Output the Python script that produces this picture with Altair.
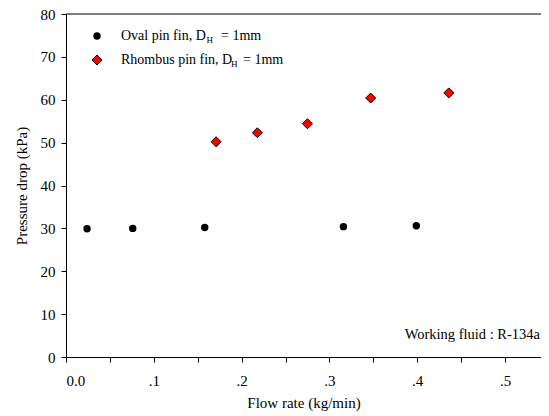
import altair as alt
import pandas as pd

oval_x = [0.024, 0.076, 0.158, 0.316, 0.399]
oval_y = [29.9, 30.0, 30.2, 30.4, 30.6]
rh_x = [0.171, 0.218, 0.275, 0.347, 0.436]
rh_y = [50.2, 52.3, 54.4, 60.4, 61.6]

x_ticks = [0, 0.05, 0.1, 0.15, 0.2, 0.25, 0.3, 0.35, 0.4, 0.45, 0.5]
y_ticks = list(range(0, 81, 5))

FONT = "Liberation Serif"
W, H = 475, 343

oval = pd.DataFrame({"x": oval_x, "y": oval_y})
rh = pd.DataFrame({"x": rh_x, "y": rh_y})

xs = alt.Scale(domain=[0, 0.541], nice=False, zero=False)
ys = alt.Scale(domain=[0, 80], nice=False)

x_axis = alt.Axis(
    values=x_ticks,
    labelExpr="datum.value == 0 ? '0.0' : (abs(datum.value*10 - round(datum.value*10)) < 0.001 ? '.' + format(round(datum.value*10), 'd') : '')",
    title="Flow rate (kg/min)",
    labelPadding=11, titlePadding=7,
)
y_axis = alt.Axis(
    values=y_ticks,
    labelExpr="datum.value % 10 == 0 ? datum.label : ''",
    title="Pressure drop (kPa)",
    labelPadding=6, titlePadding=11,
)

oval_pts = alt.Chart(oval).mark_point(
    shape="circle", filled=True, color="black", size=55, opacity=1
).encode(x=alt.X("x:Q", scale=xs, axis=x_axis), y=alt.Y("y:Q", scale=ys, axis=y_axis))

rh_pts = alt.Chart(rh).mark_point(
    shape="diamond", filled=True, fill="#ff0000", stroke="black", strokeWidth=1, size=100, opacity=1
).encode(x=alt.X("x:Q", scale=xs), y=alt.Y("y:Q", scale=ys))

one = alt.Data(values=[{"a": 1}])

top_line = alt.Chart(one).mark_rule(color="black", strokeWidth=1).encode(
    x=alt.value(0), x2=alt.value(W), y=alt.value(0)
)

leg_circle = alt.Chart(one).mark_point(shape="circle", filled=True, color="black", size=55, opacity=1).encode(
    x=alt.value(31), y=alt.value(22)
)
leg_diamond = alt.Chart(one).mark_point(
    shape="diamond", filled=True, fill="#ff0000", stroke="black", strokeWidth=1, size=100, opacity=1
).encode(x=alt.value(31), y=alt.value(46))

def txt(s, x, y, size=14, align="left"):
    return alt.Chart(one).mark_text(
        text=s, font=FONT, fontSize=size, align=align, baseline="middle", color="black"
    ).encode(x=alt.value(x), y=alt.value(y))

legend = [
    txt("Oval pin fin, D", 55, 22),
    txt("H", 140.5, 26, size=9),
    txt("= 1mm", 155, 22),
    txt("Rhombus pin fin, D", 55, 46),
    txt("H", 165, 50, size=9),
    txt("= 1mm", 177, 46),
    txt("Working fluid : R-134a", 474, 321, size=14.5, align="right"),
]

chart = alt.layer(oval_pts, rh_pts, top_line, leg_circle, leg_diamond, *legend).properties(
    width=W, height=H,
    autosize=alt.AutoSizeParams(type="none"),
    padding={"left": 58, "top": 6, "right": 0, "bottom": 58},
).configure_view(stroke=None).configure_axis(
    grid=False, domainColor="black", tickColor="black", tickSize=5,
    labelFont=FONT, titleFont=FONT, labelFontSize=15, titleFontSize=15,
    labelColor="black", titleColor="black", titleFontWeight="normal",
    domainWidth=1, tickWidth=1,
)

chart.save("out.html", embed_options={"renderer": "svg", "actions": False})
